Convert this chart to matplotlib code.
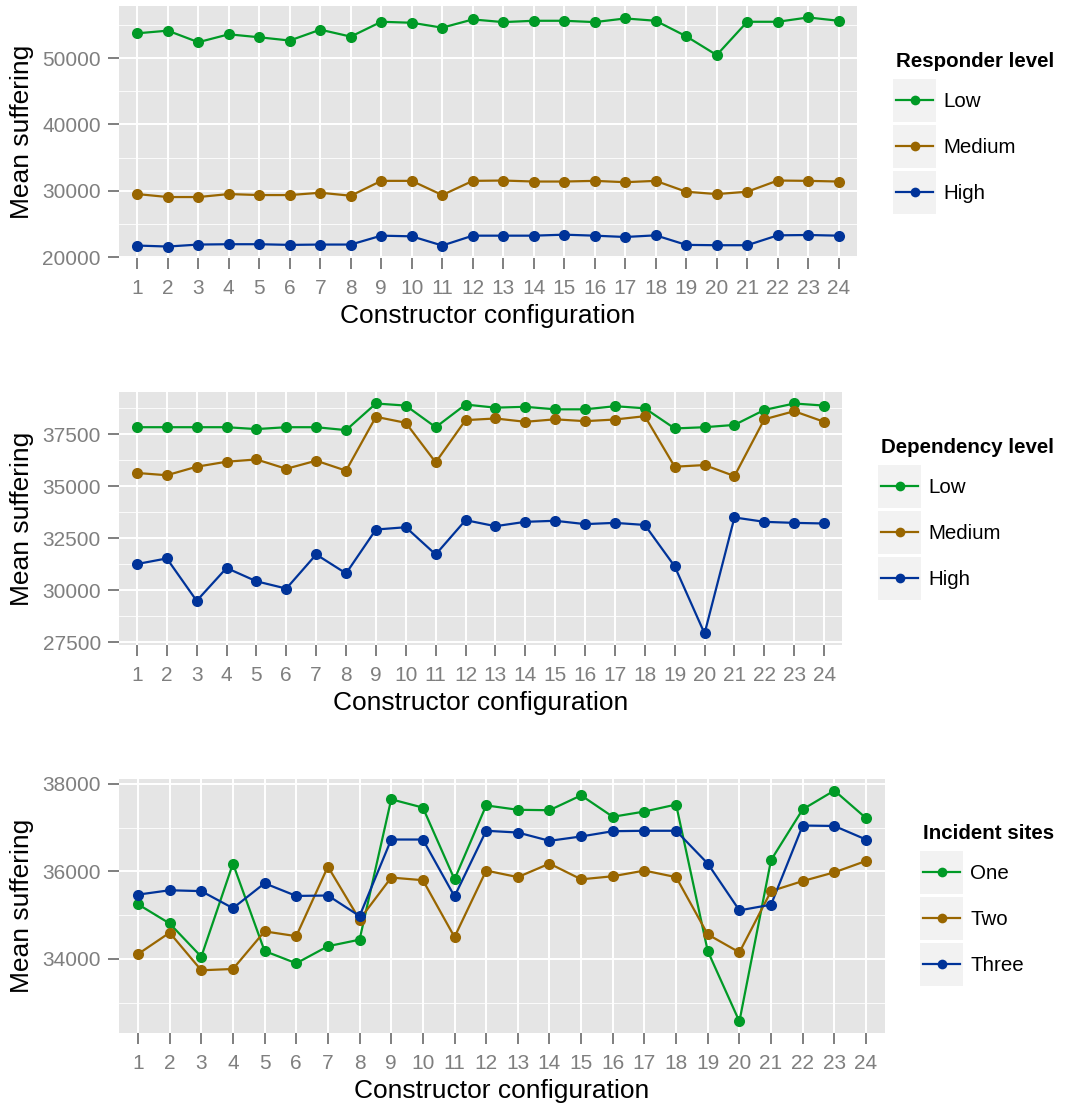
import numpy as np
import matplotlib
matplotlib.use("Agg")
import matplotlib.pyplot as plt
from matplotlib.legend_handler import HandlerLine2D
from matplotlib.patches import Rectangle
from matplotlib.lines import Line2D

plt.rcParams['font.family'] = ['Liberation Sans', 'DejaVu Sans']

# =========================
# data
# =========================
config = list(range(1, 25))
level_names = ["Low", "Medium", "High"]
site_names = ["One", "Two", "Three"]

resp_low = [53730, 54130, 52390, 53580, 53130, 52640, 54280, 53230, 55470, 55320, 54580, 55820,
            55420, 55620, 55620, 55420, 55970, 55620, 53280, 50450, 55470, 55470, 56120, 55620]
resp_med = [29500, 29050, 29050, 29500, 29350, 29350, 29700, 29250, 31490, 31490, 29350, 31490,
            31540, 31390, 31390, 31490, 31290, 31490, 29850, 29500, 29850, 31540, 31490, 31390]
resp_high = [21740, 21590, 21890, 21940, 21940, 21840, 21890, 21890, 23230, 23130, 21740, 23230,
             23230, 23230, 23380, 23230, 23030, 23280, 21840, 21790, 21790, 23280, 23330, 23230]

dep_low = [37850, 37850, 37850, 37850, 37760, 37850, 37850, 37710, 38990, 38890, 37850, 38940,
           38790, 38830, 38710, 38710, 38860, 38760, 37790, 37850, 37960, 38680, 38990, 38890]
dep_med = [35650, 35540, 35950, 36190, 36300, 35850, 36240, 35760, 38350, 38060, 36160, 38190,
           38270, 38110, 38230, 38140, 38220, 38380, 35950, 36030, 35500, 38230, 38620, 38110]
dep_high = [31270, 31540, 29500, 31080, 30440, 30090, 31730, 30820, 32930, 33040, 31730, 33380,
            33090, 33300, 33350, 33190, 33250, 33150, 31160, 27930, 33510, 33300, 33250, 33220]

sites_one = [35250, 34810, 34050, 36180, 34180, 33900, 34290, 34440, 37650, 37460, 35820, 37510,
             37410, 37400, 37740, 37250, 37370, 37530, 34180, 32570, 36260, 37420, 37850, 37220]
sites_two = [34110, 34600, 33740, 33770, 34630, 34520, 36110, 34900, 35860, 35800, 34500, 36020,
             35870, 36180, 35820, 35890, 36020, 35870, 34560, 34150, 35550, 35780, 35980, 36240]
sites_three = [35470, 35570, 35550, 35160, 35730, 35440, 35450, 34980, 36730, 36730, 35430, 36930,
               36890, 36700, 36800, 36920, 36930, 36930, 36180, 35110, 35240, 37050, 37040, 36730]

colors = ["#009a26", "#996600", "#003399"]

W, H = 1067, 1104
fig = plt.figure(figsize=(W / 100, H / 100), dpi=100)


class KeyHandler(HandlerLine2D):
    # legend key with grey box behind, like ggplot
    def create_artists(self, legend, orig_handle, xdescent, ydescent, width, height, fontsize, trans):
        arts = super().create_artists(legend, orig_handle, xdescent, ydescent, width, height, fontsize, trans)
        ymid = (height - 2 * ydescent) / 2
        for a in arts:
            a.set_ydata(np.full_like(np.asarray(a.get_xdata(), float), ymid))
        ext = 2.5
        rect = Rectangle((-xdescent - ext, -ydescent), width + 2 * ext, height,
                         facecolor="#f2f2f2", edgecolor="none", transform=trans)
        return [rect] + list(arts)


def panel(box, series, names, title, yticks, leg_xy):
    l, r, t, b = box
    ax = fig.add_axes([l / W, 1 - b / H, (r - l) / W, (b - t) / H])
    ax.set_facecolor("#e5e5e5")
    for s in ax.spines.values():
        s.set_visible(False)

    ax.set_yticks(yticks)
    step = yticks[1] - yticks[0]
    minor = np.arange(yticks[0] - step / 2, yticks[-1] + step, step)
    ax.set_yticks(minor, minor=True)
    ax.set_xticks(config)
    ax.set_xticklabels([str(c) for c in config])

    allv = np.concatenate([np.array(s) for s in series])
    lo, hi = allv.min(), allv.max()
    pad = 0.05 * (hi - lo)
    ax.set_ylim(lo - pad, hi + pad)
    ax.set_xlim(0.4, 24.6)

    ax.grid(True, which="major", color="white", linewidth=1.4)
    ax.grid(True, which="minor", axis="y", color="white", linewidth=0.6)
    ax.set_axisbelow(True)
    ax.tick_params(which="major", length=8, width=1.4, color="#7f7f7f",
                   labelcolor="#7f7f7f", labelsize=15, pad=5)
    ax.tick_params(axis="x", pad=7)
    ax.tick_params(which="minor", length=0)

    for vals, c in zip(series, colors):
        ax.plot(config, vals, color=c, linewidth=1.6, zorder=3)
    for vals, c in zip(series, colors):
        ax.plot(config, vals, linestyle="none", marker="o", markersize=8,
                color=c, markeredgewidth=0, zorder=4)

    ax.set_xlabel("Constructor configuration", fontsize=19)
    ax.set_ylabel("Mean suffering", fontsize=19, va="center")
    ax.yaxis.set_label_coords((22 - l) / (r - l), 0.5)
    ax.xaxis.set_label_coords(0.5, -(58) / (b - t))
    ax.xaxis.label.set_va("center")

    handles = [Line2D([], [], color=c, linewidth=1.6, marker="o", markersize=7,
                      markeredgewidth=0) for c in colors]
    leg = fig.legend(handles, names, title=title, loc="upper left",
                     bbox_to_anchor=(leg_xy[0] / W, 1 - leg_xy[1] / H),
                     bbox_transform=fig.transFigure, frameon=False,
                     fontsize=14.8, title_fontproperties={"weight": "bold", "size": 14.8},
                     handlelength=1.8, handleheight=2.85, labelspacing=0.14,
                     handletextpad=0.5, borderpad=0, borderaxespad=0,
                     alignment="left", handler_map={Line2D: KeyHandler()})
    leg._legend_box.sep = 5.7  # a bit more room under the title
    return ax


panel((119, 857, 6, 258), [resp_low, resp_med, resp_high], level_names,
      "Responder level", [20000, 30000, 40000, 50000], (896, 52))
panel((119, 842, 392, 645), [dep_low, dep_med, dep_high], level_names,
      "Dependency level", [27500, 30000, 32500, 35000, 37500], (881, 438))
panel((119, 885, 779, 1033), [sites_one, sites_two, sites_three], site_names,
      "Incident sites", [34000, 36000, 38000], (923, 824))

fig.savefig("out.png", dpi=100)
